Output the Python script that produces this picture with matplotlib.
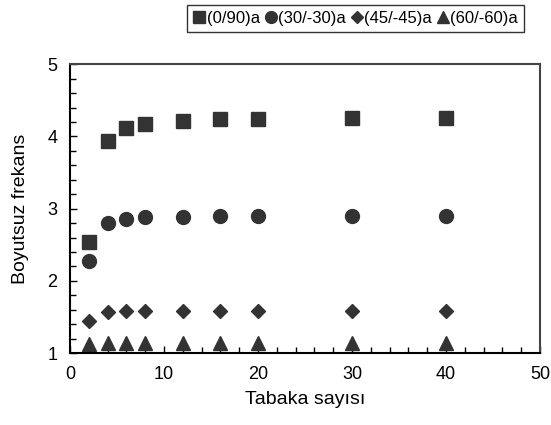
import matplotlib.pyplot as plt
from matplotlib.ticker import MultipleLocator

plt.rcParams['font.family'] = ['Liberation Sans', 'DejaVu Sans']

# Layer counts
layers = [2, 4, 6, 8, 12, 16, 20, 30, 40]

# Nondimensional frequency for each lay-up
f_0_90 = [2.54, 3.93, 4.11, 4.17, 4.22, 4.24, 4.24, 4.25, 4.25]
f_30_30 = [2.28, 2.80, 2.86, 2.88, 2.89, 2.90, 2.90, 2.90, 2.90]
f_45_45 = [1.45, 1.575, 1.58, 1.58, 1.58, 1.58, 1.58, 1.58, 1.58]
f_60_60 = [1.13, 1.14, 1.14, 1.14, 1.14, 1.14, 1.14, 1.14, 1.14]

labels = ['(0/90)a', '(30/-30)a', '(45/-45)a', '(60/-60)a']
markers = ['s', 'o', 'D', '^']
sizes = [10, 10, 7.5, 10]
color = '#333333'

fig = plt.figure(figsize=(5.51, 4.25), dpi=100)
ax = fig.add_axes([0.127, 0.169, 0.853, 0.680])

for vals, lab, m, s in zip([f_0_90, f_30_30, f_45_45, f_60_60], labels, markers, sizes):
    ax.plot(layers, vals, linestyle='none', marker=m, markersize=s,
            color=color, label=lab)

ax.set_xlim(0, 50)
ax.set_ylim(1, 5)
ax.xaxis.set_major_locator(MultipleLocator(10))
ax.xaxis.set_minor_locator(MultipleLocator(2))
ax.yaxis.set_major_locator(MultipleLocator(1))
ax.yaxis.set_minor_locator(MultipleLocator(0.2))
ax.tick_params(which='both', direction='in', top=False, right=False,
               labelsize=13, width=1, color='black')
ax.tick_params(which='major', length=5, pad=9)
ax.tick_params(which='minor', length=4)

for side in ['left', 'bottom']:
    ax.spines[side].set_linewidth(1.5)
    ax.spines[side].set_color('black')
for side in ['top', 'right']:
    ax.spines[side].set_linewidth(1.5)
    ax.spines[side].set_color('#444444')

ax.set_xlabel('Tabaka sayısı', fontsize=14, labelpad=6)
ax.set_ylabel('Boyutsuz frekans', fontsize=14, labelpad=13)

leg = fig.legend(loc='upper center', bbox_to_anchor=(0.645, 0.995), ncol=4,
                 frameon=True, fancybox=False, fontsize=12,
                 handletextpad=0.05, columnspacing=0.25, handlelength=0.8,
                 borderpad=0.35, borderaxespad=0.2, markerscale=0.85)
leg.get_frame().set_edgecolor('black')
leg.get_frame().set_linewidth(1)

fig.savefig('out.png', dpi=100)
